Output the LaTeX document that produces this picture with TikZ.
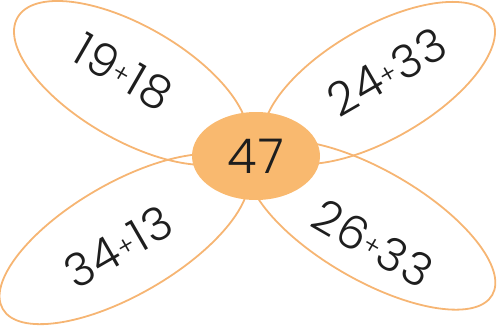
\documentclass[tikz,border=0pt]{standalone}
\usepackage{fontspec}
\setmainfont{Poppins Light}[LetterSpace=4]
\usetikzlibrary{shapes.geometric}
\definecolor{petal}{HTML}{F6B573}
\definecolor{core}{HTML}{F9B96F}
\definecolor{ink}{HTML}{1E1E1E}
\tikzset{
  petalshape/.style={draw=petal, line width=1.8pt, ellipse, inner sep=0pt},
  sumtext/.style={text=ink, font=\fontsize{46}{46}\selectfont, inner sep=0pt},
  coreshape/.style={fill=core, ellipse, minimum width=128pt, minimum height=88pt, inner sep=0pt, text=ink, font=\fontsize{48}{48}\selectfont}
}
\newcommand{\pl}{\raisebox{0.1em}{\fontsize{26}{26}\selectfont+}}
\begin{document}
\begin{tikzpicture}[x=1pt,y=-1pt]
\useasboundingbox (0,0) rectangle (498,329);
\node[petalshape, minimum width=262pt, minimum height=114pt, rotate=-30] (ptl) at (131,83) {};
\node[petalshape, minimum width=260pt, minimum height=112pt, rotate=30] (ptr) at (379,83) {};
\node[petalshape, minimum width=280pt, minimum height=112pt, rotate=30] (pbl) at (124,239) {};
\node[petalshape, minimum width=280pt, minimum height=110pt, rotate=-30] (pbr) at (371,225) {};
\node[coreshape] (c) at (256,156) {47};
\node[sumtext, rotate=-30] (t1) at (123,72) {19\pl18};
\node[sumtext, rotate=30] (t2) at (387,72) {24\pl33};
\node[sumtext, rotate=30] (t3) at (118,247) {34\pl13};
\node[sumtext, rotate=-30] (t4) at (373,243) {26\pl33};
\end{tikzpicture}
\end{document}
